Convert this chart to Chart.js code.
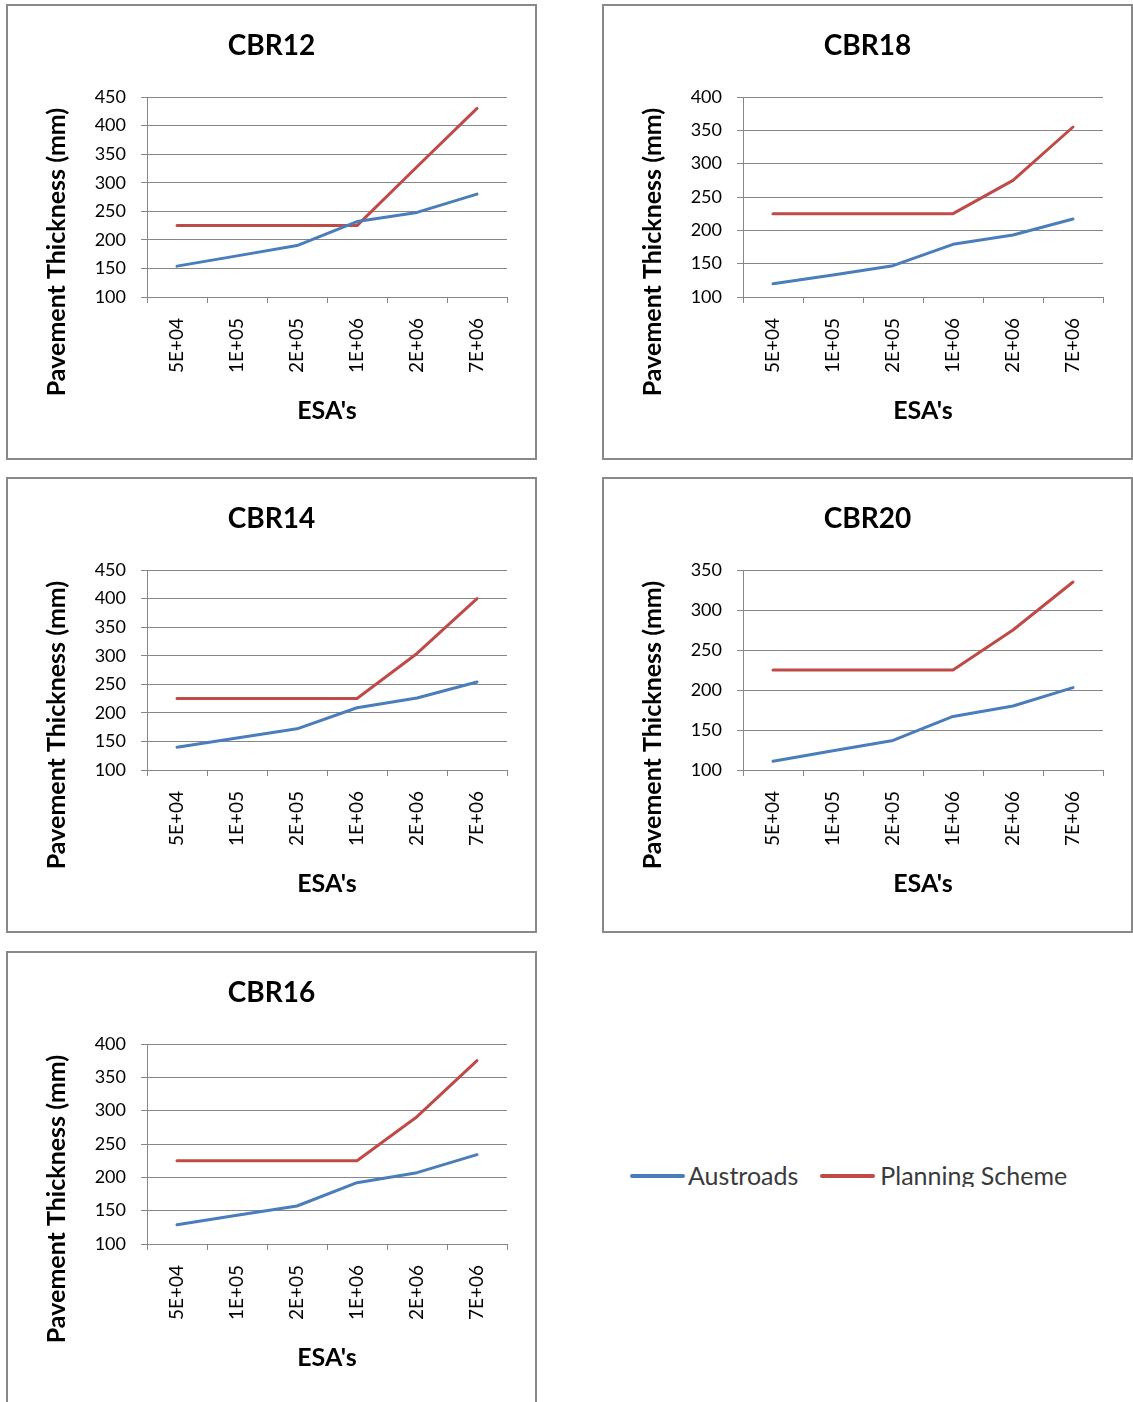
<!DOCTYPE html>
<html>
<head>
<meta charset="utf-8">
<script src="https://cdn.jsdelivr.net/npm/chart.js@4.4.0/dist/chart.umd.min.js"></script>
<style>
  body { margin: 0; background: #fff; width: 1133px; height: 1402px; position: relative; overflow: hidden; font-family: Lato, sans-serif; }
  .panel { position: absolute; box-sizing: border-box; width: 531px; height: 456px; border: 2px solid #898989; background: #fff; }
  .panel canvas { display: block; }
  #legend { position: absolute; left: 630px; top: 1160px; height: 27px; overflow: hidden; display: flex; align-items: flex-start; white-space: nowrap; font-size: 25px; line-height: 30px; color: #3a3a3a; }
  #legend .key { display: inline-block; width: 55px; height: 4px; border-radius: 2px; margin-top: 14px; margin-right: 3px; }
  #legend .gap { display: inline-block; width: 22px; }
</style>
</head>
<body>
<div class="panel" style="left:6px;top:4px"><canvas id="cbr12" width="527" height="452"></canvas></div>
<div class="panel" style="left:602px;top:4px"><canvas id="cbr18" width="527" height="452"></canvas></div>
<div class="panel" style="left:6px;top:477px"><canvas id="cbr14" width="527" height="452"></canvas></div>
<div class="panel" style="left:602px;top:477px"><canvas id="cbr20" width="527" height="452"></canvas></div>
<div class="panel" style="left:6px;top:951px"><canvas id="cbr16" width="527" height="452"></canvas></div>
<div id="legend">
  <span class="key" style="background:#4a7ebb"></span><span>Austroads</span><span class="gap"></span>
  <span class="key" style="background:#be4b48;margin-right:5px"></span><span>Planning Scheme</span>
</div>
<script>
// Design traffic (ESA's) categories shared by every panel
const esaLabels = ['5E+04', '1E+05', '2E+05', '1E+06', '2E+06', '7E+06'];

// Pavement thickness (mm) for each subgrade CBR
const austroadsCBR12 = [154, 172, 190, 232, 248, 280];
const planningCBR12  = [225, 225, 225, 225, 328, 430];
const austroadsCBR18 = [120, 133, 147, 179, 193, 217];
const planningCBR18  = [225, 225, 225, 225, 275, 355];
const austroadsCBR14 = [140, 156, 172, 209, 226, 254];
const planningCBR14  = [225, 225, 225, 225, 304, 400];
const austroadsCBR20 = [111, 124, 137, 167, 180, 203];
const planningCBR20  = [225, 225, 225, 225, 275, 335];
const austroadsCBR16 = [129, 143, 157, 192, 207, 234];
const planningCBR16  = [225, 225, 225, 225, 291, 375];

// Thickness axis ranges per panel
const yMin = 100;
const yStep = 50;
const yMaxCBR12 = 450, yMaxCBR18 = 400, yMaxCBR14 = 450, yMaxCBR20 = 350, yMaxCBR16 = 400;

const FONT = 'Lato, "Open Sans", sans-serif';
const GRID = '#878787';
const BLUE = '#4a7ebb';
const RED = '#be4b48';

// Vertical axis caption, centred on the plot plus category-label band
const sideTitle = {
  id: 'sideTitle',
  afterDraw(chart, args, opts) {
    const { ctx, chartArea } = chart;
    ctx.save();
    ctx.translate(opts.x, (chartArea.top + chartArea.bottom) / 2 + opts.shift);
    ctx.rotate(-Math.PI / 2);
    ctx.font = `bold ${opts.size}px ${FONT}`;
    ctx.fillStyle = opts.color;
    ctx.textAlign = 'center';
    ctx.textBaseline = 'middle';
    ctx.fillText(opts.text, 0, 0);
    ctx.restore();
  }
};

function thicknessChart(id, title, austroads, planning, yMax) {
  const series = (label, data, color) => ({
    label, data,
    borderColor: color, backgroundColor: color,
    borderWidth: 3, pointRadius: 0, pointHoverRadius: 0,
    tension: 0, borderCapStyle: 'round', borderJoinStyle: 'round', fill: false
  });
  return new Chart(document.getElementById(id), {
    type: 'line',
    plugins: [sideTitle],
    data: {
      labels: esaLabels,
      datasets: [series('Austroads', austroads, BLUE), series('Planning Scheme', planning, RED)]
    },
    options: {
      responsive: false,
      animation: false,
      events: [],
      layout: { padding: 0 },
      plugins: {
        legend: { display: false },
        tooltip: { enabled: false },
        title: {
          display: true, text: title, color: '#000',
          font: { family: FONT, size: 28, weight: 'bold', lineHeight: 1.2 },
          padding: { top: 23, bottom: 34.4 }
        },
        sideTitle: { text: 'Pavement Thickness (mm)', color: '#000', size: 25, x: 49, shift: 55 }
      },
      scales: {
        x: {
          type: 'category',
          offset: true,
          grid: { display: true, drawOnChartArea: false, drawTicks: true, tickLength: 6, offset: true, color: GRID, lineWidth: 1 },
          border: { display: true, color: GRID, width: 1 },
          ticks: { autoSkip: false, minRotation: 90, maxRotation: 90, padding: 15, color: '#000', font: { family: FONT, size: 19 } },
          title: { display: true, text: "ESA's", color: '#000', font: { family: FONT, size: 25, weight: 'bold', lineHeight: 1.2 }, padding: { top: 0, bottom: 32 } },
          afterFit: s => { s.height = 161; }
        },
        y: {
          min: yMin, max: yMax,
          grid: { display: true, drawTicks: true, tickLength: 6, color: GRID, lineWidth: 1 },
          border: { display: true, color: GRID, width: 1 },
          ticks: { stepSize: yStep, padding: 15, color: '#000', font: { family: FONT, size: 18 } },
          afterFit: s => { s.width = 139; }
        },
        // empty right-hand margin so the panel title stays centred on the whole panel
        yMargin: {
          type: 'linear', position: 'right', display: true,
          grid: { display: false }, border: { display: false }, ticks: { display: false },
          afterFit: s => { s.width = 28; }
        }
      }
    }
  });
}

thicknessChart('cbr12', 'CBR12', austroadsCBR12, planningCBR12, yMaxCBR12);
thicknessChart('cbr18', 'CBR18', austroadsCBR18, planningCBR18, yMaxCBR18);
thicknessChart('cbr14', 'CBR14', austroadsCBR14, planningCBR14, yMaxCBR14);
thicknessChart('cbr20', 'CBR20', austroadsCBR20, planningCBR20, yMaxCBR20);
thicknessChart('cbr16', 'CBR16', austroadsCBR16, planningCBR16, yMaxCBR16);
</script>
</body>
</html>
